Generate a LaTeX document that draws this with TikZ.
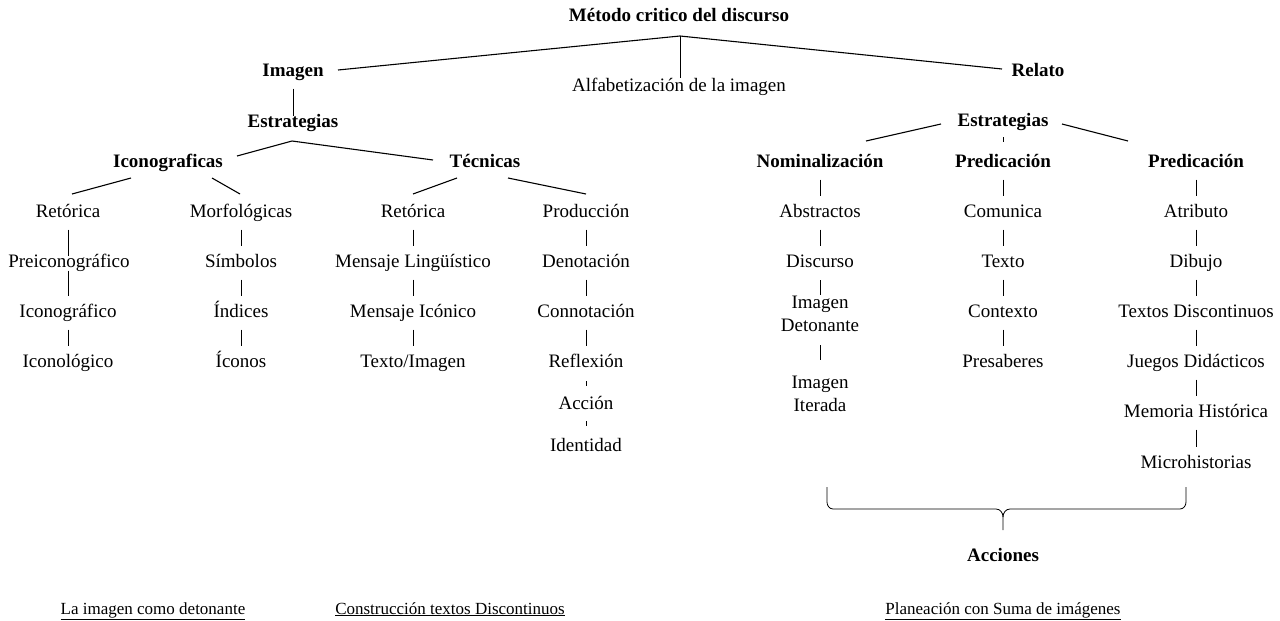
\documentclass[tikz,border=0pt]{standalone}
\usepackage{fontspec}
\setmainfont{Liberation Serif}
\begin{document}
\begin{tikzpicture}[x=1pt,y=-1pt,
  every node/.style={inner sep=0pt,text height=13pt,text depth=5pt,font=\fontsize{19}{23}\selectfont},
  hd/.style={font=\fontsize{19}{23}\selectfont\bfseries},
  two/.style={align=center,text height=,text depth=},
  ln/.style={line width=1.1pt},
  vl/.style={line width=0.9pt},
  vt/.style={vl,shorten <=7.5pt,shorten >=7.5pt},
  ul/.style={font=\fontsize{17}{20}\selectfont}]
\useasboundingbox (0,0) rectangle (1280,621);
% top
\node[hd] (metodo) at (679,17) {Método critico del discurso};
\node[hd] (imagen) at (293,72) {Imagen};
\node (alfa) at (679,87) {Alfabetización de la imagen};
\node[hd] (relato) at (1038,72) {Relato};
\coordinate (j0) at (680,36);
\coordinate (j0l) at (338,70);
\coordinate (j0r) at (1002,69);
\draw[ln] (j0l) -- (j0) -- (j0r);
\draw[vl] (j0) -- (j0 |- alfa.north);
% left strategies
\node[hd] (estA) at (293,123) {Estrategias};
\draw[vt] (imagen) -- (imagen |- estA);
\node[hd] (icon) at (168,163) {Iconograficas};
\node[hd] (tec) at (485,163) {Técnicas};
\coordinate (eA1) at (237,156);
\coordinate (eA0) at (292,141);
\coordinate (eA2) at (433,160);
\draw[ln] (eA1) -- (eA0) -- (eA2);
\coordinate (i1a) at (131,178); \coordinate (i1b) at (72,194);
\coordinate (i2a) at (212,178); \coordinate (i2b) at (240,194);
\coordinate (t1a) at (457,178); \coordinate (t1b) at (413,194);
\coordinate (t2a) at (508,178); \coordinate (t2b) at (586,194);
\draw[ln] (i1a) -- (i1b);
\draw[ln] (i2a) -- (i2b);
\draw[ln] (t1a) -- (t1b);
\draw[ln] (t2a) -- (t2b);
% column A
\node (a1) at (68,213) {Retórica};
\node (a2) at (69,263) {Preiconográfico};
\node (a3) at (68,313) {Iconográfico};
\node (a4) at (68,363) {Iconológico};
\draw[vt] (a1) -- (a1 |- a2); \draw[vt] (a1 |- a2) -- (a3); \draw[vt] (a3) -- (a4);
% column B
\node (b1) at (241,213) {Morfológicas};
\node (b2) at (241,263) {Símbolos};
\node (b3) at (241,313) {Índices};
\node (b4) at (241,363) {Íconos};
\draw[vt] (b1) -- (b2); \draw[vt] (b2) -- (b3); \draw[vt] (b3) -- (b4);
% column C
\node (c1) at (413,213) {Retórica};
\node (c2) at (413,263) {Mensaje Lingüístico};
\node (c3) at (413,313) {Mensaje Icónico};
\node (c4) at (413,363) {Texto/Imagen};
\draw[vt] (c1) -- (c2); \draw[vt] (c2) -- (c3); \draw[vt] (c3) -- (c4);
% column D
\node (d1) at (586,213) {Producción};
\node (d2) at (586,263) {Denotación};
\node (d3) at (586,313) {Connotación};
\node (d4) at (586,363) {Reflexión};
\node (d5) at (586,405) {Acción};
\node (d6) at (586,447) {Identidad};
\draw[vt] (d1) -- (d2); \draw[vt] (d2) -- (d3); \draw[vt] (d3) -- (d4);
\draw[vl,shorten <=9pt,shorten >=10pt] (d4) -- (d5);
\draw[vl,shorten <=7pt,shorten >=12pt] (d5) -- (d6);
% right strategies
\node[hd] (estB) at (1003,122) {Estrategias};
\node[hd] (nom) at (820,163) {Nominalización};
\node[hd] (pre1) at (1003,163) {Predicación};
\node[hd] (pre2) at (1196,163) {Predicación};
\coordinate (eB1) at (866,141); \coordinate (eB1a) at (941,124);
\coordinate (eB2) at (1128,141); \coordinate (eB2a) at (1062,124);
\draw[ln] (eB1a) -- (eB1);
\draw[ln] (eB2a) -- (eB2);
\draw[vl,shorten <=6pt,shorten >=12pt] (estB) -- (pre1);
% column E
\node (e1) at (820,213) {Abstractos};
\node (e2) at (820,263) {Discurso};
\node[two] (e3) at (820,314) {Imagen\\Detonante};
\node[two] (e4) at (820,394) {Imagen\\Iterada};
\draw[vt] (nom) -- (e1); \draw[vt] (e1) -- (e2);
\draw[vl,shorten <=8pt,shorten >=1pt] (e2) -- (e3);
\draw[vl,shorten <=13pt,shorten >=16pt] (e3) -- (e4);
% column F
\node (f1) at (1003,213) {Comunica};
\node (f2) at (1003,263) {Texto};
\node (f3) at (1003,313) {Contexto};
\node (f4) at (1003,363) {Presaberes};
\draw[vt] (pre1) -- (f1); \draw[vt] (f1) -- (f2); \draw[vt] (f2) -- (f3); \draw[vt] (f3) -- (f4);
% column G
\node (g1) at (1196,213) {Atributo};
\node (g2) at (1196,263) {Dibujo};
\node (g3) at (1196,313) {Textos Discontinuos};
\node (g4) at (1196,363) {Juegos Didácticos};
\node (g5) at (1196,413) {Memoria Histórica};
\node (g6) at (1196,464) {Microhistorias};
\draw[vt] (pre2) -- (g1); \draw[vt] (g1) -- (g2); \draw[vt] (g2) -- (g3);
\draw[vt] (g3) -- (g4); \draw[vt] (g4) -- (g5); \draw[vt] (g5) -- (g6);
% brace
\node[hd] (acc) at (1003,557) {Acciones};
\coordinate (brL) at (827,487);
\coordinate (brR) at (1186,487);
\coordinate (brM) at (1003,530);
\draw[line width=0.8pt] (brL) -- (827,502) to[out=-90,in=180] (833,509) -- (996,509)
  to[out=0,in=90] (1003,517) -- (brM);
\draw[line width=0.8pt] (1003,517) to[out=90,in=180] (1010,509) -- (1180,509)
  to[out=0,in=-90] (1186,502) -- (brR);
% bottom
\node[ul] (u1) at (153,610) {\underline{La imagen como detonante}};
\node[ul] (u2) at (450,610) {\underline{Construcción textos Discontinuos}};
\node[ul] (u3) at (1003,610) {\underline{Planeación con Suma de imágenes}};
\end{tikzpicture}
\end{document}
